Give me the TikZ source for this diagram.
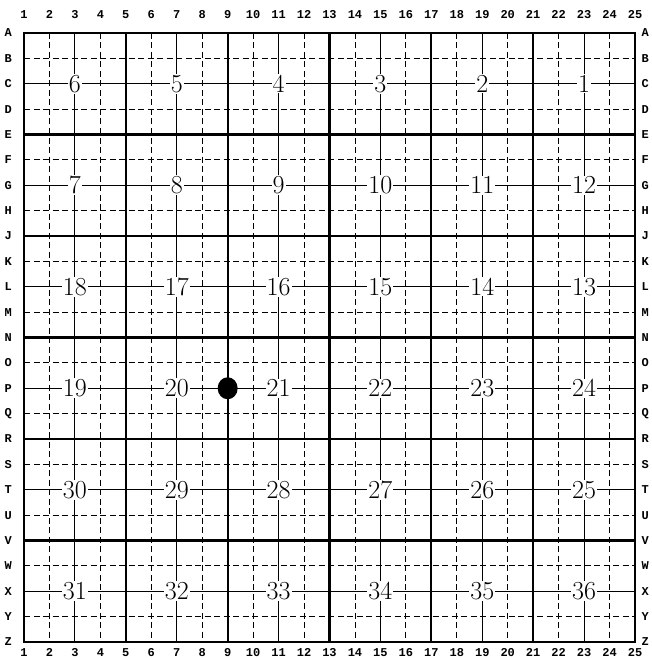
\documentclass[tikz,border=0pt]{standalone}
\usepackage{fontspec}
\newfontfamily\labfont{Liberation Mono}
\usetikzlibrary{shapes.geometric}
\begin{document}
\begin{tikzpicture}[x=1pt,y=-1pt,
  qq/.style={line width=0.8pt,dash pattern=on 6pt off 3.5pt},
  midline/.style={line width=0.9pt},
  secline/.style={line width=2.2pt},
  secnum/.style={fill=white,inner sep=1pt,font=\fontsize{26}{26}\selectfont},
  lab/.style={font=\labfont\fontsize{12}{12}\selectfont\bfseries,inner sep=0pt}]
\useasboundingbox (0,0) rectangle (652,658);
\begin{scope}[shift={(24,33)},x=25.458pt,y=-25.375pt]
  % quarter-quarter lines (dashed)
  \foreach \i in {1,3,...,23} {
    \draw[qq] (\i,0) -- (\i,24);
    \draw[qq] (0,\i) -- (24,\i);
  }
  % mid-section lines
  \foreach \i in {2,6,10,14,18,22} {
    \draw[midline] (\i,0) -- (\i,24);
    \draw[midline] (0,\i) -- (24,\i);
  }
  % section lines
  \foreach \i in {4,8,12,16,20} {
    \draw[secline] (\i,0) -- (\i,24);
    \draw[secline] (0,\i) -- (24,\i);
  }
  \draw[line width=2.6pt] (0,0) rectangle (24,24);
  % section numbers
  \foreach \c in {0,...,5} {
    \pgfmathtruncatemacro\sa{6-\c}
    \pgfmathtruncatemacro\sb{7+\c}
    \pgfmathtruncatemacro\sc{18-\c}
    \pgfmathtruncatemacro\sd{19+\c}
    \pgfmathtruncatemacro\se{30-\c}
    \pgfmathtruncatemacro\sf{31+\c}
    \node[secnum] (s\sa) at (2+4*\c,2) {\sa};
    \node[secnum] (s\sb) at (2+4*\c,6) {\sb};
    \node[secnum] (s\sc) at (2+4*\c,10) {\sc};
    \node[secnum] (s\sd) at (2+4*\c,14) {\sd};
    \node[secnum] (s\se) at (2+4*\c,18) {\se};
    \node[secnum] (s\sf) at (2+4*\c,22) {\sf};
  }
  % column labels
  \foreach \n in {1,...,25} {
    \node[lab] (top\n) at (\n-1,-0.72) {\n};
    \node[lab] (bot\n) at (\n-1,24.42) {\n};
  }
  % row labels
  \foreach \L [count=\k from 0] in {A,B,C,D,E,F,G,H,J,K,L,M,N,O,P,Q,R,S,T,U,V,W,X,Y,Z} {
    \node[lab] (left\L) at (-0.62,\k) {\L};
    \node[lab] (right\L) at (24.4,\k) {\L};
  }
  % dot
  \node[fill=black,ellipse,minimum width=20pt,minimum height=22pt,inner sep=0pt] (dot) at (8,14) {};
\end{scope}
\end{tikzpicture}
\end{document}
